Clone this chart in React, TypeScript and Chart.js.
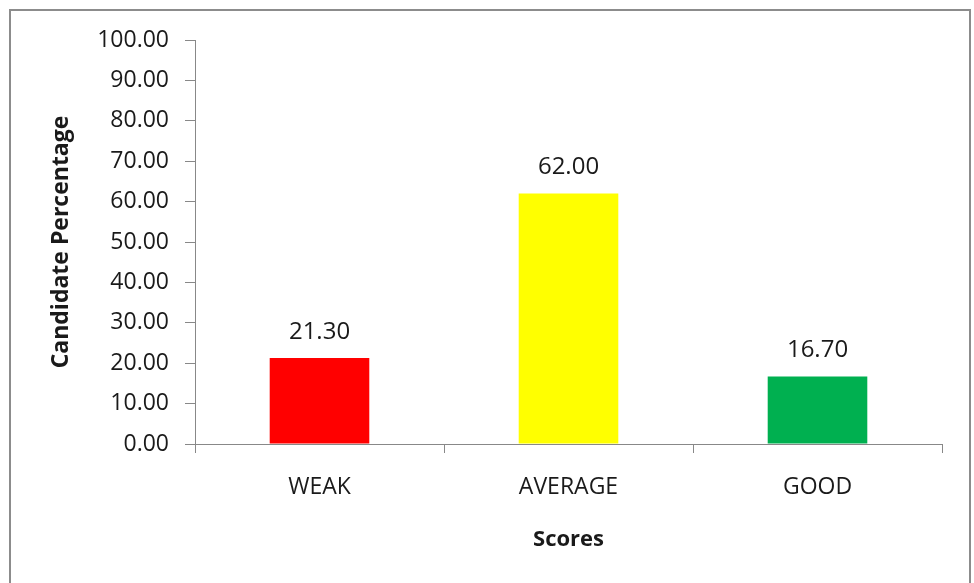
import React, { useEffect, useRef } from "react";
import { Chart, registerables } from "chart.js";

Chart.register(...registerables);

const categories = ["WEAK", "AVERAGE", "GOOD"];
const percentages = [21.3, 62.0, 16.7];
const barColors = ["#FF0000", "#FFFF00", "#00B050"];
const yMin = 0;
const yMax = 100;
const yStep = 10;
const xTitle = "Scores";
const yTitle = "Candidate Percentage";

const FONT = "'Open Sans', 'DejaVu Sans', sans-serif";

const valueLabels = {
  id: "valueLabels",
  afterDatasetsDraw(chart: any) {
    const ctx = chart.ctx;
    const meta = chart.getDatasetMeta(0);
    ctx.save();
    ctx.font = `24px ${FONT}`;
    ctx.fillStyle = "#1a1a1a";
    ctx.textAlign = "center";
    ctx.textBaseline = "middle";
    meta.data.forEach((bar: any, i: number) => {
      const v = chart.data.datasets[0].data[i] as number;
      ctx.fillText(v.toFixed(2), bar.x, bar.y - 26);
    });
    ctx.restore();
  },
};

export default function App() {
  const ref = useRef<HTMLCanvasElement>(null);
  useEffect(() => {
    if (!ref.current) return;
    const chart = new Chart(ref.current, {
      type: "bar",
      data: {
        labels: categories,
        datasets: [
          {
            data: percentages,
            backgroundColor: barColors,
            borderWidth: 0,
            categoryPercentage: 1,
            barPercentage: 0.4,
          },
        ],
      },
      options: {
        animation: false,
        responsive: false,
        maintainAspectRatio: false,
        layout: { padding: { top: 40, right: 32, bottom: 0, left: 0 } },
        plugins: {
          legend: { display: false },
          tooltip: { enabled: false },
        },
        scales: {
          x: {
            offset: true,
            grid: {
              offset: true,
              drawOnChartArea: false,
              drawTicks: true,
              tickLength: 9,
              color: "#888888",
            },
            border: { color: "#888888", width: 1 },
            ticks: {
              color: "#1a1a1a",
              font: { family: FONT, size: 23 },
              padding: 21,
            },
            title: {
              display: true,
              text: xTitle,
              color: "#1a1a1a",
              font: { family: FONT, size: 22, weight: "bold" },
              padding: { top: 0, bottom: 30 },
            },
            afterFit(scale: any) {
              scale.height = 139;
            },
          },
          y: {
            min: yMin,
            max: yMax,
            grid: {
              drawOnChartArea: false,
              drawTicks: true,
              tickLength: 10,
              color: "#888888",
            },
            border: { color: "#888888", width: 1 },
            ticks: {
              stepSize: yStep,
              color: "#1a1a1a",
              font: { family: FONT, size: 23 },
              padding: 16,
              callback: (v: any) => Number(v).toFixed(2),
            },
            title: {
              display: true,
              text: yTitle,
              color: "#1a1a1a",
              font: { family: FONT, size: 23, weight: "bold" },
              padding: { top: 48, bottom: 0 },
            },
            afterFit(scale: any) {
              scale.width = 195;
            },
          },
        },
      },
      plugins: [valueLabels],
    });
    return () => chart.destroy();
  }, []);

  return (
    <div
      style={{
        position: "fixed",
        left: 0,
        top: 0,
        width: 974,
        height: 583,
        overflow: "hidden",
        background: "#ffffff",
      }}
    >
      <div
        style={{
          position: "absolute",
          left: 9,
          top: 9,
          width: 958,
          height: 700,
          border: "2px solid #8c8c8c",
        }}
      />
      <canvas
        ref={ref}
        width={974}
        height={583}
        style={{ position: "absolute", left: 0, top: 0, width: 974, height: 583 }}
      />
    </div>
  );
}
